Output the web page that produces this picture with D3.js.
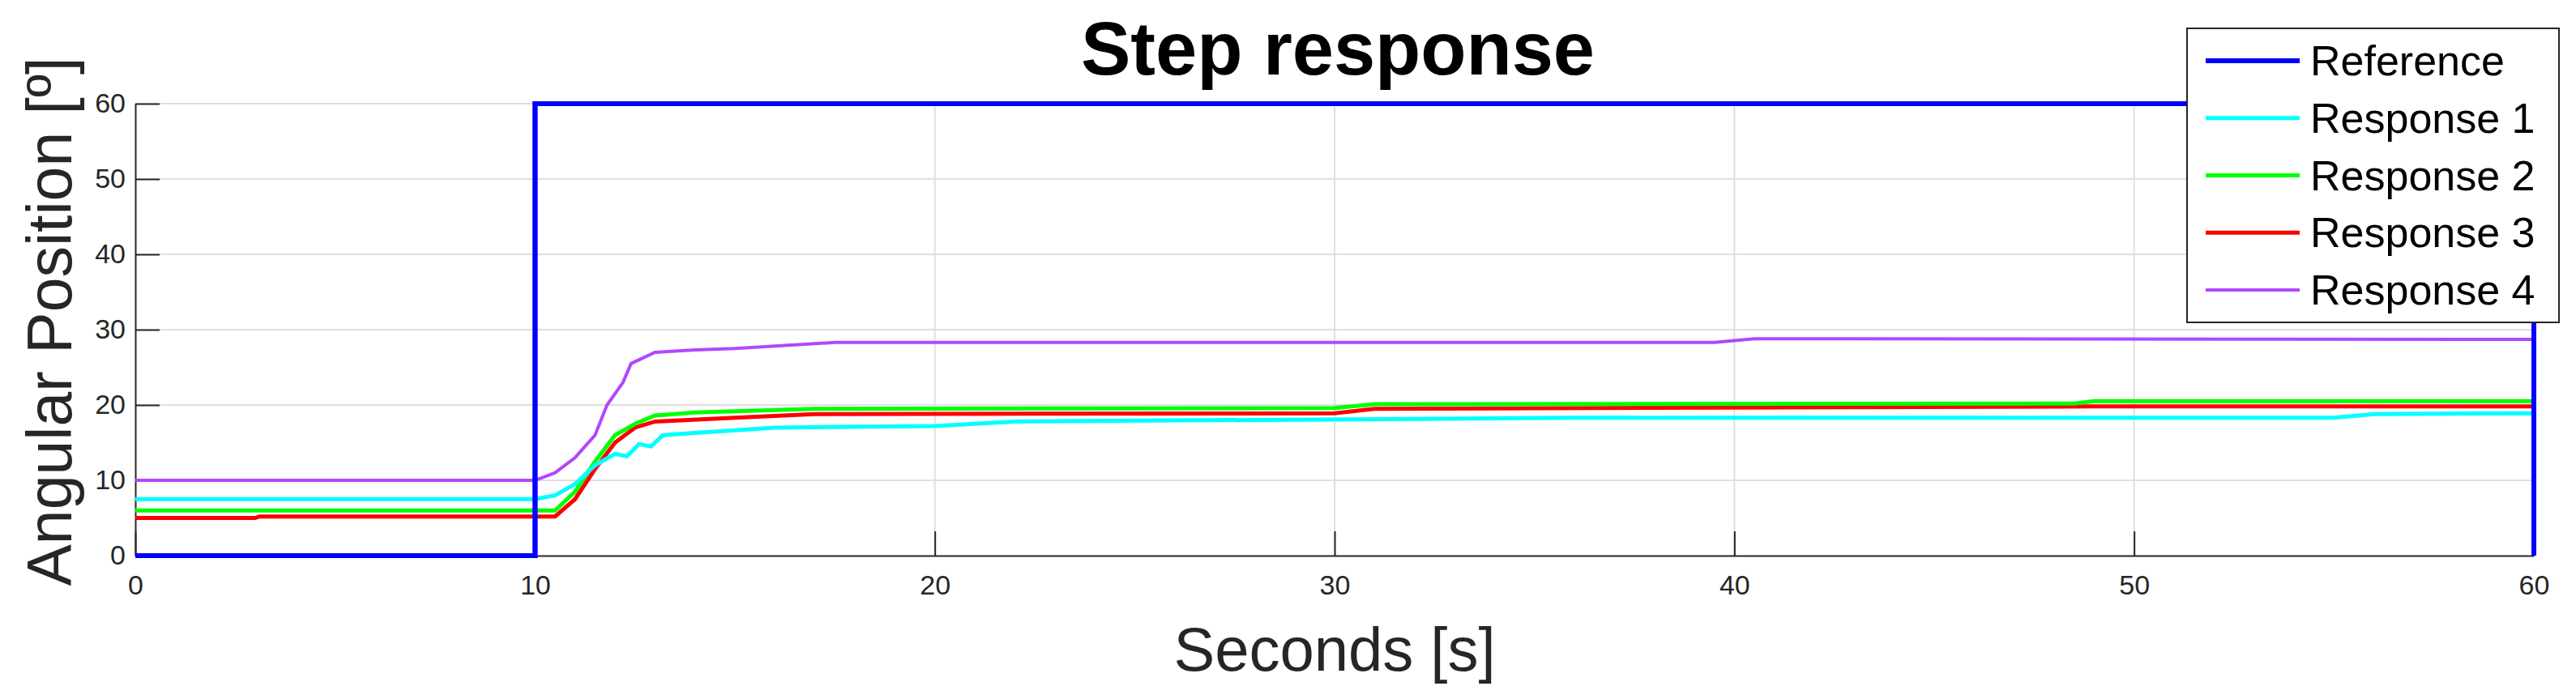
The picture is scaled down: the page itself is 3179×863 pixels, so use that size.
<!DOCTYPE html>
<html>
<head>
<meta charset="utf-8">
<script src="https://cdn.jsdelivr.net/npm/d3@7"></script>
<style>body{margin:0;background:#fff}</style>
</head>
<body>
<script>
const W = 3179, H = 863;
const margin = {left: 167, right: 52, top: 128, bottom: 177};

const xTicks = [0, 10, 20, 30, 40, 50, 60];
const yTicks = [0, 10, 20, 30, 40, 50, 60];

const refT = [0, 10, 10, 60, 60];
const refV = [0, 0, 60, 60, 0];
const r1T = [0, 10, 10.5, 11, 11.5, 12, 12.3, 12.6, 12.9, 13.2, 14, 16, 20, 22, 36, 55, 56, 60];
const r1V = [7.5, 7.5, 8, 9.5, 12, 13.5, 13.2, 14.8, 14.5, 16, 16.3, 17, 17.2, 17.8, 18.3, 18.3, 18.8, 18.9];
const r2T = [0, 10.5, 11, 11.5, 12, 12.5, 13, 14, 17, 30, 31, 48.5, 49, 60];
const r2V = [6, 6, 8.5, 12.5, 16, 17.5, 18.6, 19, 19.5, 19.6, 20.1, 20.2, 20.5, 20.5];
const r3T = [0, 3, 3.1, 10.5, 11, 11.5, 12, 12.5, 13, 15, 17, 30, 31, 49, 60];
const r3V = [5, 5, 5.2, 5.2, 7.5, 11.5, 15, 17, 17.8, 18.3, 18.8, 18.9, 19.5, 19.8, 19.8];
const r4T = [0, 10, 10.5, 11, 11.2, 11.5, 11.8, 12.2, 12.4, 13, 14, 15, 17.5, 39.5, 40.5, 60];
const r4V = [10, 10, 11, 13, 14.2, 16, 20, 23, 25.5, 27, 27.3, 27.5, 28.3, 28.3, 28.8, 28.7];

const series = [
  {name: 'Reference', color: '#0000ff', w: 6, t: refT, v: refV},
  {name: 'Response 1', color: '#00ffff', w: 5, t: r1T, v: r1V},
  {name: 'Response 2', color: '#00ff00', w: 5, t: r2T, v: r2V},
  {name: 'Response 3', color: '#ff0000', w: 5, t: r3T, v: r3V},
  {name: 'Response 4', color: '#b147ff', w: 4, t: r4T, v: r4V}
];

const svg = d3.select('body').append('svg').attr('width', W).attr('height', H)
  .style('font-family', 'Liberation Sans, Arial, sans-serif');

const x = d3.scaleLinear().domain([0, 60]).range([margin.left, W - margin.right]);
const y = d3.scaleLinear().domain([0, 60]).range([H - margin.bottom, margin.top]);

// grid
svg.append('g').selectAll('line').data(xTicks.slice(1)).join('line')
  .attr('x1', d => x(d)).attr('x2', d => x(d)).attr('y1', y(0)).attr('y2', y(60))
  .attr('stroke', '#dfdfdf').attr('stroke-width', 2);
svg.append('g').selectAll('line').data(yTicks.slice(1)).join('line')
  .attr('x1', x(0)).attr('x2', x(60)).attr('y1', d => y(d)).attr('y2', d => y(d))
  .attr('stroke', '#dfdfdf').attr('stroke-width', 2);

// axes
const xAxis = svg.append('g').attr('transform', `translate(0,${y(0)})`)
  .call(d3.axisBottom(x).tickValues(xTicks).tickSizeInner(-30).tickSizeOuter(0).tickPadding(24));
const yAxis = svg.append('g').attr('transform', `translate(${x(0)},0)`)
  .call(d3.axisLeft(y).tickValues(yTicks).tickSizeInner(-30).tickSizeOuter(0).tickPadding(12));
[xAxis, yAxis].forEach(a => {
  a.select('.domain').attr('stroke', '#262626').attr('stroke-width', 2);
  a.selectAll('.tick line').attr('stroke', '#262626').attr('stroke-width', 2);
  a.selectAll('text').attr('fill', '#262626').style('font-size', '34px').style('font-family', 'Liberation Sans, Arial, sans-serif');
});
xAxis.selectAll('text').attr('dy', '0.71em');

// lines
const line = d3.line().x(d => x(d[0])).y(d => y(d[1]));
series.slice().reverse().forEach(s => {
  svg.append('path').datum(s.t.map((t, i) => [t, s.v[i]]))
    .attr('d', line).attr('fill', 'none').attr('stroke', s.color).attr('stroke-width', s.w);
});
// keep reference on top
svg.append('path').datum(refT.map((t, i) => [t, refV[i]]))
  .attr('d', line).attr('fill', 'none').attr('stroke', '#0000ff').attr('stroke-width', 6);

// labels
svg.append('text').attr('x', 1651).attr('y', 92).attr('text-anchor', 'middle')
  .style('font-size', '92px').style('font-weight', 'bold').text('Step response');
svg.append('text').attr('x', (x(0) + x(60)) / 2).attr('y', 828).attr('text-anchor', 'middle')
  .attr('fill', '#262626').style('font-size', '76px').text('Seconds [s]');
svg.append('text').attr('transform', `translate(88,${(y(0) + y(60)) / 2 - 10}) rotate(-90)`)
  .attr('text-anchor', 'middle').attr('fill', '#262626').style('font-size', '77px').text('Angular Position [º]');

// legend
const lg = svg.append('g');
lg.append('rect').attr('x', 2699).attr('y', 35).attr('width', 459).attr('height', 363)
  .attr('fill', '#fff').attr('stroke', '#262626').attr('stroke-width', 2);
const ly = d3.scaleLinear().domain([0, 4]).range([75, 358]);
series.forEach((s, i) => {
  lg.append('line').attr('x1', 2722).attr('x2', 2838).attr('y1', ly(i)).attr('y2', ly(i))
    .attr('stroke', s.color).attr('stroke-width', s.w);
  lg.append('text').attr('x', 2851).attr('y', ly(i) + 18).style('font-size', '52px').text(s.name);
});
</script>
</body>
</html>
